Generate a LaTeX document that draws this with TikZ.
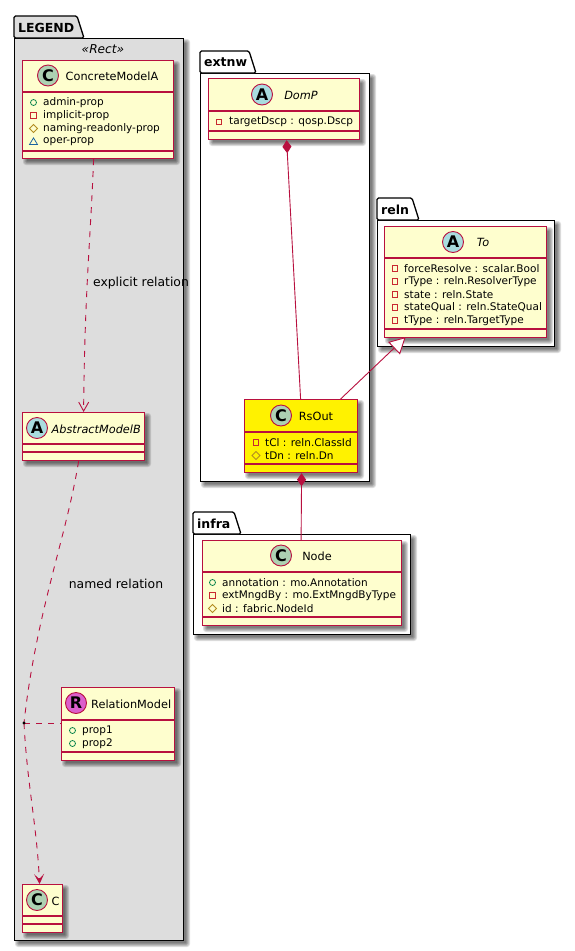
\documentclass[tikz,border=0pt]{standalone}
\usepackage{fontspec}
\setmainfont{DejaVu Sans}
\usetikzlibrary{arrows.meta,calc}
\definecolor{cborder}{HTML}{B8103F}
\definecolor{cfill}{HTML}{FEFECE}
\definecolor{legendbg}{HTML}{DDDDDD}
\definecolor{icC}{HTML}{ADD1B2}
\definecolor{icA}{HTML}{A9DCDF}
\definecolor{icR}{HTML}{DB5FCC}
\definecolor{vPub}{HTML}{038048}
\definecolor{vPriv}{HTML}{C82930}
\definecolor{vProt}{HTML}{B38D22}
\definecolor{vPkg}{HTML}{1963A0}
\newcommand{\fsAttr}{\fontsize{10.5}{12}\selectfont}
\newcommand{\fsName}{\fontsize{11.3}{13}\selectfont}
\tikzset{
  boxbase/.style={draw=cborder,line width=1.2pt,inner sep=0pt,anchor=north west},
  sepline/.style={color=cborder,line width=1.2pt},
  rel/.style={color=cborder,line width=.9pt},
  reldash/.style={rel,dash pattern=on 6pt off 6pt},
  attrtext/.style={anchor=west,inner sep=0pt,font=\fsAttr},
  nametext/.style={anchor=center,inner sep=0pt,font=\fsName},
  circ/.style={circle,draw=cborder,line width=.9pt,minimum size=21pt,inner sep=0pt,font=\fontsize{16}{16}\selectfont\bfseries},
  pkgname/.style={anchor=west,inner sep=0pt,font=\fontsize{12.5}{14}\selectfont\bfseries},
  lbl/.style={anchor=center,inner sep=0pt,font=\fontsize{12.4}{14}\selectfont},
  vis/.style={line width=.75pt,fill=none},
  openhead/.style={-{Straight Barb[length=9pt,width=10pt,line width=.9pt]}},
  filledhead/.style={-{Stealth[length=10pt,width=10pt,inset=5pt]}},
}
% soft drop shadow of a rectangle
\newcommand{\softshadow}[4]{%
  \foreach \s/\r in {3/3,2/2.4,1/1.6,0/1,-1/.5}{%
    \fill[black,opacity=.13,rounded corners=\r pt]
      (#1+4-\s,#2+4-\s) rectangle (#3+4+\s,#4+4+\s);}}
% package: name, x1, tab top, tab right, body top, x2, y2, fill, title
\newcommand{\pkg}[9]{%
  \softshadow{#2}{#5}{#6}{#7}
  \fill[black,opacity=.12] (#2+3,#3+3) rectangle (#4+2,#5);
  \node[draw=black,line width=1.3pt,fill=#8,inner sep=0pt,anchor=north west,
        minimum width=#6pt-#2pt,minimum height=#7pt-#5pt] (#1) at (#2,#5) {};
  \draw[black,line width=1.3pt,fill=#8,rounded corners=1.5pt]
    (#2,#5) -- (#2,#3) -- (#4,#3) -- (#4+7,#5) -- cycle;
  \node[pkgname] (#1title) at (#2+4,{(#3+#5)/2+.5}) {#9};}
% class box: name, x1, y1, x2, y2, fill, head line y, member line y
\newcommand{\classbox}[8]{%
  \softshadow{#2}{#3}{#4}{#5}
  \node[boxbase,fill=#6,minimum width=#4pt-#2pt,minimum height=#5pt-#3pt] (#1) at (#2,#3) {};
  \draw[sepline] (#2,#7) -- (#4,#7);
  \draw[sepline] (#2,#8) -- (#4,#8);}
\newcommand{\spot}[5]{\node[circ,fill=#2] (#1) at (#3,#4) {#5};}
\newcommand{\icPub}[2]{\draw[vis,vPub] (#1,#2) circle (3pt);}
\newcommand{\icPriv}[2]{\draw[vis,vPriv] (#1-2.8,#2-2.8) rectangle (#1+2.8,#2+2.8);}
\newcommand{\icProt}[2]{\draw[vis,vProt] (#1,#2-4) -- (#1+4,#2) -- (#1,#2+4) -- (#1-4,#2) -- cycle;}
\newcommand{\icPkg}[2]{\draw[vis,vPkg] (#1,#2-3.6) -- (#1+4,#2+3) -- (#1-4,#2+3) -- cycle;}
\newcounter{attrc}
\newcommand{\attr}[5]{\stepcounter{attrc}%
  \csname ic#1\endcsname{#2}{#4}
  \node[attrtext] (attr\theattrc) at (#3,#4) {#5};}
\begin{document}
\begin{tikzpicture}[x=1pt,y=-1pt]
\useasboundingbox (0,0) rectangle (575,951);
\fill[white] (0,0) rectangle (575,951);
% packages
\pkg{legend}{14}{16}{77}{38}{183}{940}{legendbg}{LEGEND}
\pkg{extnw}{200}{51}{249}{73}{369}{481}{white}{extnw}
\pkg{reln}{377}{198}{412}{220}{554}{346}{white}{reln}
\pkg{infra}{193}{512}{234}{534}{410}{634}{white}{infra}
\node[inner sep=0pt,font=\fontsize{12.2}{14}\selectfont\itshape] (rect) at (103,49.5) {«Rect»};
% ConcreteModelA
\classbox{cma}{22}{60}{173}{158}{cfill}{92}{151}
\spot{cmaC}{icC}{48}{75.5}{C}
\node[nametext] (cmaN) at (112,76) {ConcreteModelA};
\attr{Pub}{33.5}{43}{102.5}{admin-prop}
\attr{Priv}{33.5}{43}{115.5}{implicit-prop}
\attr{Prot}{33.5}{43}{128.5}{naming-readonly-prop}
\attr{Pkg}{33.5}{43}{141.5}{oper-prop}
% AbstractModelB
\classbox{amb}{22}{412}{144}{460}{cfill}{444}{452}
\spot{ambC}{icA}{37}{428}{A}
\node[nametext,font=\fsName\itshape,anchor=west] (ambN) at (51.5,429) {AbstractModelB};
% RelationModel
\classbox{rm}{61}{687}{174}{760}{cfill}{720}{752}
\spot{rmC}{icR}{76}{703}{R}
\node[nametext,anchor=west] (rmN) at (91,704) {RelationModel};
\attr{Pub}{72.5}{82}{730.5}{prop1}
\attr{Pub}{72.5}{82}{743.5}{prop2}
% C
\classbox{cc}{22}{884}{62}{932}{cfill}{916}{924}
\spot{ccC}{icC}{37}{900}{C}
\node[nametext,anchor=west] (ccN) at (51.5,901) {C};
% DomP
\classbox{dom}{208}{78}{359}{139}{cfill}{111}{131}
\spot{domC}{icA}{262}{94.5}{A}
\node[nametext,font=\fsName\itshape] (domN) at (301,95) {DomP};
\attr{Priv}{219}{229}{122}{targetDscp : qosp.Dscp}
% To
\classbox{to}{384}{226}{546}{337}{cfill}{258}{329}
\spot{toC}{icA}{453}{242}{A}
\node[nametext,font=\fsName\itshape] (toN) at (483,242.5) {To};
\attr{Priv}{395}{404}{268.5}{forceResolve : scalar.Bool}
\attr{Priv}{395}{404}{281.5}{rType : reln.ResolverType}
\attr{Priv}{395}{404}{294.5}{state : reln.State}
\attr{Priv}{395}{404}{307.5}{stateQual : reln.StateQual}
\attr{Priv}{395}{404}{320.5}{tType : reln.TargetType}
% RsOut
\classbox{rs}{244}{399}{357}{472}{yellow}{432}{464}
\spot{rsC}{icC}{281}{415.5}{C}
\node[nametext] (rsN) at (316,416) {RsOut};
\attr{Priv}{256}{265}{442.5}{tCl : reln.ClassId}
\attr{Prot}{256}{265}{455.5}{tDn : reln.Dn}
% Node
\classbox{nd}{202}{540}{401}{625}{cfill}{572}{617}
\spot{ndC}{icC}{281}{555.5}{C}
\node[nametext] (ndN) at (317,556) {Node};
\attr{Pub}{212.5}{222}{582.5}{annotation : mo.Annotation}
\attr{Priv}{212.5}{222}{595.5}{extMngdBy : mo.ExtMngdByType}
\attr{Prot}{212.5}{222}{608.5}{id : fabric.NodeId}
% connectors
\coordinate (dot) at (24,723);
\draw[reldash,openhead] ([xshift=-4.5pt]cma.south) .. controls +(-3,80) and +(1,-120) .. ([xshift=0pt]amb.north);
\draw[reldash] ([xshift=-5pt]amb.south) .. controls +(-12,75) and +(12,-110) .. (dot);
\draw[reldash,filledhead] (dot) .. controls +(3,60) and +(-3,-60) .. ([xshift=-3pt]cc.north);
\draw[reldash] (dot) -- (dot -| rm.west);
\fill[black] (dot) circle (1.7pt);
\draw[rel,{Diamond[length=13pt,width=9pt,fill=cborder]}-] ([xshift=2.5pt]dom.south) -- ([xshift=-.5pt]rs.north);
\draw[rel,{Diamond[length=13pt,width=9pt,fill=cborder]}-] ([xshift=.5pt]rs.south) -- (rs.south |- nd.north);
\draw[rel,-{Triangle[open,length=16pt,width=17pt,fill=white]}] ([xshift=39.5pt]rs.north) -- ([xshift=-60pt,yshift=1pt]to.south);
% edge labels
\node[lbl] (lblA) at (141,283) {explicit relation};
\node[lbl] (lblB) at (116,584) {named relation};
\end{tikzpicture}
\end{document}
